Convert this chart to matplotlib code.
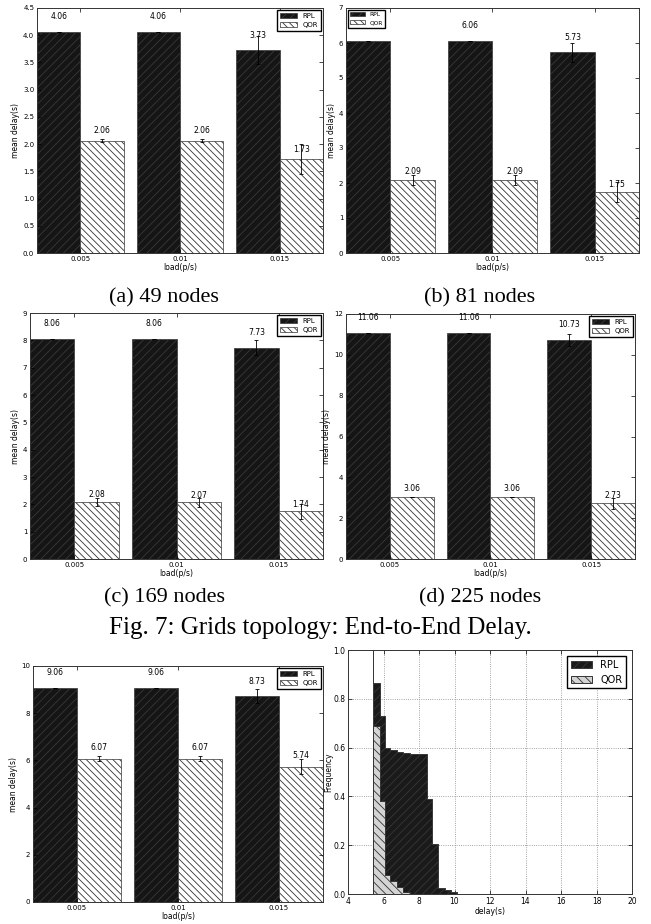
import numpy as np
import matplotlib
matplotlib.use('Agg')
import matplotlib.pyplot as plt

plt.rcParams['font.family'] = 'DejaVu Sans'
plt.rcParams['hatch.linewidth'] = 0.6

loads = ['0.005', '0.01', '0.015']

# (a) 49 nodes
rpl_49 = [4.06, 4.06, 3.73]
qor_49 = [2.06, 2.06, 1.73]
rpl_49_err = [0, 0, 0.25]
qor_49_err = [0.03, 0.03, 0.28]

# (b) 81 nodes
rpl_81 = [6.06, 6.06, 5.73]
qor_81 = [2.09, 2.09, 1.75]
rpl_81_err = [0, 0, 0.27]
qor_81_err = [0.15, 0.15, 0.28]

# (c) 169 nodes
rpl_169 = [8.06, 8.06, 7.73]
qor_169 = [2.08, 2.07, 1.74]
rpl_169_err = [0, 0, 0.27]
qor_169_err = [0.15, 0.15, 0.28]

# (d) 225 nodes
rpl_225 = [11.06, 11.06, 10.73]
qor_225 = [3.06, 3.06, 2.73]
rpl_225_err = [0, 0, 0.3]
qor_225_err = [0, 0, 0.27]

# bottom left panel
rpl_e = [9.06, 9.06, 8.73]
qor_e = [6.07, 6.07, 5.74]
rpl_e_err = [0, 0, 0.3]
qor_e_err = [0.1, 0.1, 0.3]

# delay distribution (step histogram)
rpl_edges = [5.40, 5.42, 5.79, 6.11, 6.39, 6.77, 7.10, 7.48, 7.80, 8.12,
             8.43, 8.75, 9.08, 9.46, 9.78, 10.12, 11.10]
rpl_freq = [1.0, 0.866, 0.731, 0.600, 0.590, 0.582, 0.577, 0.574, 0.572,
            0.572, 0.390, 0.204, 0.023, 0.016, 0.007, 0.002]
qor_edges = [5.42, 5.79, 6.11, 6.39, 6.77, 7.10, 7.48, 8.12]
qor_freq = [0.689, 0.381, 0.077, 0.052, 0.030, 0.008, 0.002]


def bar_panel(ax, rpl, qor, rpl_err, qor_err, ymax, ystep, loc, legsize=5, hidden=()):
    x = np.arange(len(loads))
    w = 0.435
    ekw = dict(elinewidth=0.6, capthick=0.6)
    b1 = ax.bar(x - w/2, rpl, w, yerr=rpl_err, color='#151515', edgecolor='#383838',
                hatch='////', lw=0.5, ecolor='k', capsize=1.5, error_kw=ekw, label='RPL')
    b2 = ax.bar(x + w/2, qor, w, yerr=qor_err, color='white', edgecolor='#333333',
                hatch='\\\\\\\\\\', lw=0.5, ecolor='k', capsize=1.5, error_kw=ekw, label='QOR')
    # value labels (the ones in `hidden` sit under the legend box)
    for name, rects in (('rpl', b1), ('qor', b2)):
        for i, r in enumerate(rects):
            if (name, i) in hidden:
                continue
            h = r.get_height()
            ax.text(r.get_x() + r.get_width()/2, 1.05*h, '%.2f' % h,
                    ha='center', va='bottom', fontsize=5.5)
    ax.set_xlim(-w, len(loads) - 1 + w)
    ax.set_xticks(x)
    ax.set_xticklabels(loads)
    ax.set_ylim(0, ymax)
    ax.set_yticks(np.arange(0, ymax + ystep/2, ystep))
    ax.tick_params(direction='in', top=True, right=True, labelsize=5,
                   length=3, width=0.5, pad=2)
    ax.set_xlabel('load(p/s)', fontsize=5.5, labelpad=1)
    ax.set_ylabel('mean delay(s)', fontsize=5.5, labelpad=2)
    for s in ax.spines.values():
        s.set_linewidth(0.7)
        s.set_color('#333333')
    ax.legend(loc=loc, fontsize=legsize, fancybox=False, edgecolor='k',
              framealpha=1, borderaxespad=0.3, handlelength=2.5)


fig = plt.figure(figsize=(6.51, 9.24), dpi=100)
H = 924.0
W = 651.0


def box(l, r, t, b):
    return [l/W, 1 - b/H, (r - l)/W, (b - t)/H]


ax_a = fig.add_axes(box(37, 323, 8, 253))
bar_panel(ax_a, rpl_49, qor_49, rpl_49_err, qor_49_err, 4.5, 0.5, 'upper right')
ax_b = fig.add_axes(box(346, 639, 8, 253))
bar_panel(ax_b, rpl_81, qor_81, rpl_81_err, qor_81_err, 7, 1, 'upper left', 4.2,
          hidden=[('rpl', 0)])
ax_c = fig.add_axes(box(30, 323, 313, 559))
bar_panel(ax_c, rpl_169, qor_169, rpl_169_err, qor_169_err, 9, 1, 'upper right')
ax_d = fig.add_axes(box(346, 635, 314, 559))
bar_panel(ax_d, rpl_225, qor_225, rpl_225_err, qor_225_err, 12, 2, 'upper right')
ax_e = fig.add_axes(box(33, 323, 666, 902))
bar_panel(ax_e, rpl_e, qor_e, rpl_e_err, qor_e_err, 10, 2, 'upper right')

# histogram
ax_f = fig.add_axes(box(348, 632, 650, 894))
ax_f.hist(rpl_edges[:-1], bins=rpl_edges, weights=rpl_freq, histtype='stepfilled',
          facecolor='#1a1a1a', edgecolor='#383838', hatch='////', lw=0.7, label='RPL')
ax_f.hist(qor_edges[:-1], bins=qor_edges, weights=qor_freq, histtype='stepfilled',
          facecolor='#d4d4d4', edgecolor='#333333', hatch='\\\\\\\\', lw=0.7, label='QOR')
ax_f.set_xlim(4, 20)
ax_f.set_ylim(0, 1)
ax_f.set_xticks(np.arange(4, 21, 2))
ax_f.set_yticks(np.arange(0, 1.01, 0.2))
ax_f.set_axisbelow(True)
ax_f.grid(True, linestyle=':', color='#888888', lw=0.6)
ax_f.tick_params(direction='in', top=True, right=True, labelsize=5.5,
                 length=3, width=0.5, pad=2)
ax_f.set_xlabel('delay(s)', fontsize=5.5, labelpad=1)
ax_f.set_ylabel('Frequency', fontsize=5.5, labelpad=0)
for s in ax_f.spines.values():
    s.set_linewidth(0.7)
    s.set_color('#333333')
ax_f.legend(loc='upper right', fontsize=7, fancybox=False, edgecolor='k',
            framealpha=1, borderaxespad=0.6, handlelength=2.2)

# captions
cap = dict(family='Liberation Serif', fontsize=16, ha='center', va='center')
fig.text(164/W, 1 - 298/H, '(a) 49 nodes', **cap)
fig.text(480/W, 1 - 298/H, '(b) 81 nodes', **cap)
fig.text(164/W, 1 - 598/H, '(c) 169 nodes', **cap)
fig.text(480/W, 1 - 598/H, '(d) 225 nodes', **cap)
fig.text(320/W, 1 - 628/H, 'Fig. 7: Grids topology: End-to-End Delay.',
         family='Liberation Serif', fontsize=18, ha='center', va='center')

fig.savefig('out.png', dpi=100)
